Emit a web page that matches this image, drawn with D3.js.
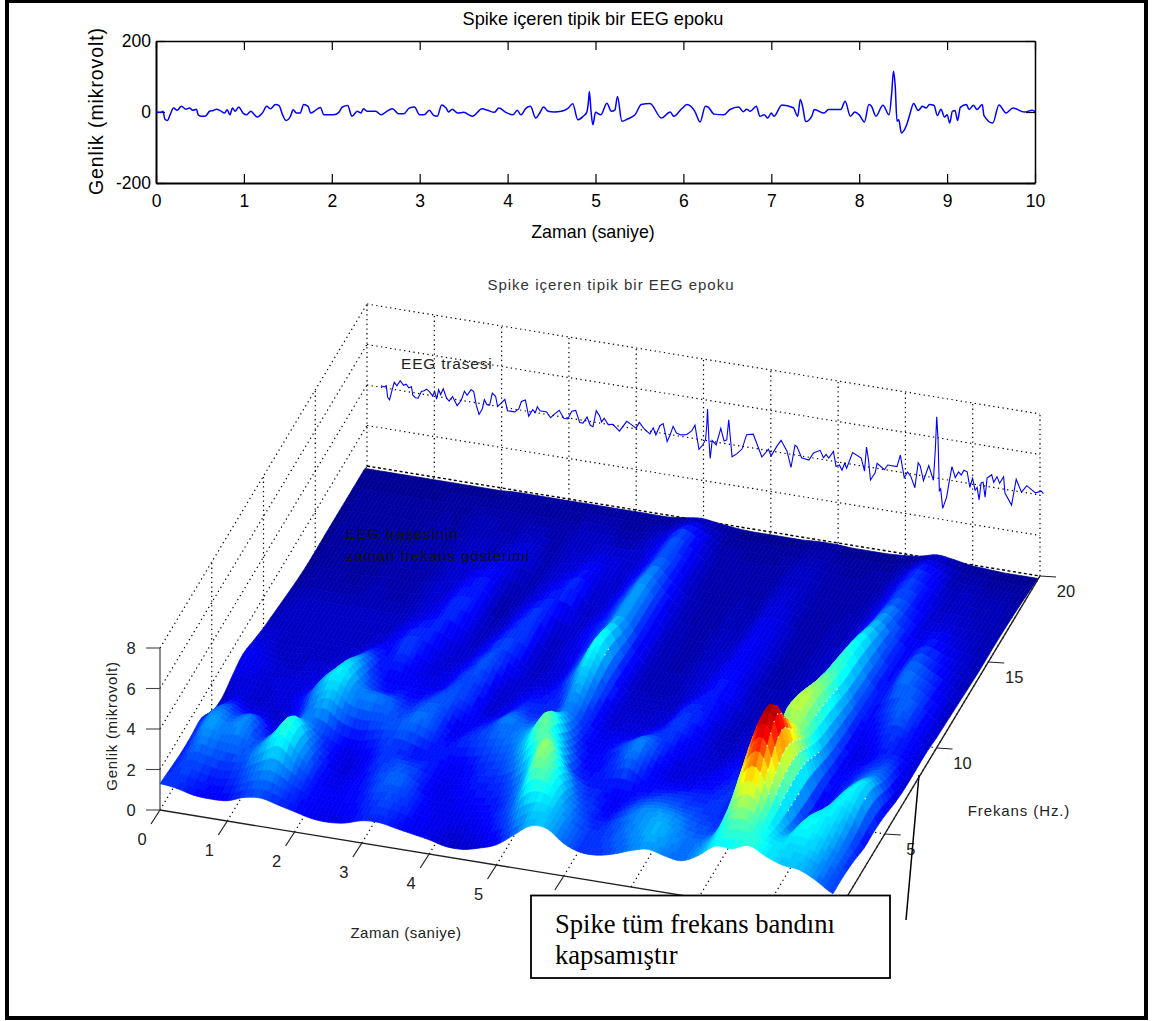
<!DOCTYPE html>
<html lang="tr"><head><meta charset="utf-8">
<script src="https://cdnjs.cloudflare.com/ajax/libs/d3/7.8.5/d3.min.js"></script>
<style>html,body{margin:0;padding:0;background:#fff}svg{display:block}text{font-family:"Liberation Sans",Arial,sans-serif}</style>
</head><body><svg id="c" width="1155" height="1021"></svg>
<script>
const title = "Spike içeren tipik bir EEG epoku";
const eegT = [0,.05,.08,.10,.13,.16,.20,.24,.29,.34,.38,.42,.46,.48,.52,.56,.61,.65,.69,.73,.78,.81,.84,.87,.90,.94,.99,1.03,1.08,1.11,1.15,1.21,1.26,1.30,1.36,1.40,1.44,1.48,1.53,1.56,1.60,1.64,1.68,1.73,1.76,1.81,1.87,1.91,1.97,2.02,2.08,2.12,2.18,2.23,2.29,2.33,2.36,2.40,2.50,2.56,2.61,2.69,2.76,2.82,2.88,2.94,3.0,3.05,3.11,3.16,3.20,3.25,3.30,3.33,3.37,3.43,3.50,3.60,3.71,3.77,3.85,3.90,3.98,4.06,4.11,4.15,4.21,4.26,4.32,4.36,4.41,4.46,4.53,4.61,4.69,4.74,4.80,4.86,4.90,4.92,4.93,4.95,4.97,5.0,5.06,5.13,5.18,5.22,5.25,5.30,5.37,5.45,5.52,5.62,5.75,5.85,5.89,5.98,6.04,6.13,6.19,6.25,6.28,6.35,6.46,6.53,6.63,6.68,6.72,6.76,6.83,6.87,6.92,6.96,7.0,7.03,7.12,7.25,7.30,7.33,7.36,7.39,7.46,7.49,7.60,7.65,7.79,7.84,7.90,7.95,8.0,8.06,8.11,8.14,8.19,8.27,8.34,8.37,8.39,8.41,8.43,8.45,8.48,8.54,8.57,8.62,8.67,8.72,8.76,8.80,8.85,8.89,8.93,8.97,9.0,9.03,9.06,9.09,9.12,9.15,9.22,9.25,9.30,9.34,9.40,9.42,9.52,9.59,9.67,9.75,9.88,9.97,10];
const eegV = [0,-1,2,-20,-24,-8,11,5,16,8,11,5,8,-8,-12,-12,2,4,8,4,-3,6,-8,11,2,14,-3,-8,2,-5,-14,-3,16,9,21,18,-8,-24,-12,6,-3,-3,21,16,-3,4,13,-8,-8,-8,-1,14,18,-12,2,-3,9,2,2,-8,-1,9,-5,-5,11,14,-8,-8,5,-10,-12,20,11,0,8,-3,-1,-12,9,5,-1,11,-1,-8,5,-8,11,16,-17,-5,14,2,0,2,11,23,-22,-12,-1,30,58,0,-36,-1,-8,25,2,5,44,-26,-19,-8,21,24,-17,0,-12,9,21,2,-28,16,14,-6,-8,7,14,1,8,2,16,-12,-8,-17,-3,-12,20,12,-12,35,11,-27,-12,7,-3,7,7,30,-12,0,-8,-28,21,16,-12,19,-8,54,115,72,-26,-22,-59,-36,-12,24,4,16,11,21,19,-10,8,-14,-8,-31,2,4,-24,13,21,7,19,7,21,-10,-31,20,-3,11,0,5,1];
const topXTicks = [0,1,2,3,4,5,6,7,8,9,10];
const topYTicks = [-200,0,200];
const timeTicks = [0,1,2,3,4,5,6];
const timeGrid = [1,2,3,4,5,6,7,8,9,10];
const freqTicks = [5,10,15,20];
const ampTicks = [0,2,4,6,8];
const surfT = d3.range(0,10.01,.25);
const surfF = [0,1,2,3,4,5,6,7,8,9,10,12,14,16,18,19.8];
const row00 = [1.3,1.2,1.0,.95,1.0,1.3,1.4,1.2,1.0,.8,.75,.85,1.1,1.15,1.0,.85,.7,.5,.5,.7,1.0,1.6,2.2,2.2,1.6,1.3,1.3,1.5,1.8,2.0,1.8,1.7,2.1,2.7,2.7,3.0,2.6,2.3,2.2,1.8,1.3];
const row01 = [1.2,1.4,1.2,1.1,1.3,1.7,1.9,1.5,1.1,.9,.9,1.0,1.3,1.4,1.2,.9,.8,.7,.8,1.0,1.4,2.2,2.5,2.2,1.6,1.3,1.4,1.7,2.0,2.2,1.9,1.7,2.0,3.0,3.3,2.9,2.5,2.5,2.4,1.9,1.3];
const row02 = [1.1,1.7,1.6,1.5,1.6,2.2,2.8,2.0,1.2,.8,.9,1.1,1.5,1.6,1.2,.8,.8,.9,1.0,1.2,1.8,3.2,3.0,2.0,1.4,1.1,1.4,1.8,2.0,2.0,1.7,1.5,1.7,3.7,4.3,3.0,2.0,2.7,2.6,2.0,1.2];
const row03 = [1.1,2.0,1.8,1.9,1.4,2.0,2.9,1.9,1.1,.7,.8,1.2,1.4,1.4,1.1,.8,.9,1.1,1.2,1.5,2.3,3.7,2.6,1.5,1.2,.9,1.2,1.5,1.6,1.5,1.4,1.3,1.5,4.6,5.6,3.4,1.5,2.3,2.6,2.2,1.0];
const row04 = [1.15,1.8,1.5,1.7,1.0,1.2,1.9,1.5,1.0,.8,1.0,1.3,1.2,1.0,1.1,.9,1.0,1.3,1.5,2.1,3.2,2.9,1.5,1.1,1.1,1.0,1.0,1.1,1.2,1.2,1.2,1.3,1.5,5.0,6.4,3.6,1.2,1.5,2.5,2.5,1.0];
const row05 = [.6,1.2,.9,.8,.6,1.0,1.8,2.2,1.6,1.4,1.5,1.5,1.7,1.4,1.0,1.2,1.4,1.6,1.8,2.3,3.3,2.0,1.1,1.0,1.3,1.7,1.0,.8,.8,.9,1.0,1.2,1.4,3.8,5.0,3.4,1.1,1.2,2.1,2.4,.9];
const row06 = [.45,.7,.5,.6,.7,1.2,2.2,2.6,1.9,1.8,1.6,1.3,1.6,1.5,.8,1.0,1.3,1.8,1.6,1.8,2.4,1.4,.9,1.0,1.4,1.8,1.2,.7,.7,.7,.9,1.1,1.3,3.2,3.8,2.8,1.1,1.1,1.6,1.8,.7];
const row07 = [.7,.7,.6,.7,.7,.9,1.7,2.4,1.5,1.1,1.1,1.0,1.3,1.5,1.2,.7,.9,1.3,1.2,1.3,1.8,1.2,.8,.8,.9,1.2,1.3,.9,.7,.5,.7,.9,1.2,3.6,3.8,2.4,1.0,1.0,1.3,1.4,.6];
const row08 = [.9,.8,.6,.5,.6,.7,1.1,1.8,1.2,.9,.9,.8,.9,1.4,1.3,.6,.7,1.0,1.1,1.3,2.2,1.3,.6,.6,.6,.8,1.3,1.1,.6,.4,.6,.8,1.1,3.3,3.7,2.2,.9,.8,1.1,1.1,.6];
const row09 = [.7,.6,.4,.5,.5,.5,.7,1.2,1.0,1.3,.8,.7,.8,1.2,1.5,.7,.6,.7,.9,1.6,2.6,1.4,.6,.5,.5,.6,1.1,1.1,.7,.4,.5,.6,1.0,2.8,3.4,2.0,.9,1.0,1.3,1.0,.6];
const row10 = [.5,.5,.5,.5,.5,.5,.5,.7,1.0,1.3,1.0,.6,.6,1.0,1.4,1.1,.5,.6,.8,1.6,2.8,1.4,.5,.4,.4,.5,.8,1.1,.8,.4,.4,.5,.9,2.4,3.1,1.8,1.0,1.3,1.6,1.1,.5];
const row12 = [.25,.4,.4,.4,.4,.4,.4,.4,.6,.8,1.2,1.0,.4,.6,1.1,1.3,.5,.6,.9,1.4,2.1,1.2,.5,.3,.3,.5,.6,.9,.7,.3,.3,.4,.7,1.8,2.8,1.6,1.0,1.7,1.4,.9,.4];
const row14 = [.05,.2,.2,.15,.2,.3,.2,.3,.5,.6,.9,1.0,.3,.4,.7,1.0,1.2,.5,.7,1.3,2.0,1.2,.5,.3,.25,.4,.4,.8,.7,.3,.25,.4,.5,1.2,2.1,1.4,.9,1.2,.9,.6,.3];
const row16 = [.05,.15,.2,.15,.15,.2,.3,.2,.4,.5,.4,.6,.7,.3,.5,.6,.8,.7,.6,1.0,1.6,1.0,.4,.25,.25,.3,.3,.6,.5,.25,.25,.3,.4,.9,1.5,1.1,.6,.6,.5,.4,.3];
const row18 = [.05,.15,.15,.15,.15,.15,.2,.2,.3,.3,.25,.3,.25,.25,.4,.4,.35,.3,.5,.8,1.3,.9,.35,.25,.2,.2,.25,.4,.4,.25,.2,.25,.3,.7,1.2,.9,.4,.4,.3,.3,.2];
const row20 = [.05,.05,.05,.05,.05,.05,.05,.05,.05,.1,.1,.1,.1,.1,.1,.1,.1,.1,.1,.2,.3,.2,.1,.05,.05,.05,.05,.1,.1,.05,.05,.05,.1,.2,.4,.3,.15,.1,.05,.05,.05];
const surfZ = [row00,row01,row02,row03,row04,row05,row06,row07,row08,row09,row10,row12,row14,row16,row18,row20];
const jetZ = [0,.95,2.7,4.3,5.6,6.6];
const jetR = [0,0,0,255,255,128];
const jetG = [0,0,255,255,0,0];
const jetB = [143,255,255,0,0,0];

const svg = d3.select("#c");
// ---------- 2D panel
const x2 = d3.scaleLinear().domain([0,10]).range([156,1035]);
const y2 = d3.scaleLinear().domain([-200,200]).range([183,41]);
const topG = svg.append("g");
const fmt = d => String(d);
function styleAxis(g,w){g.selectAll(".domain").attr("stroke","#000").attr("stroke-width",w);g.selectAll(".tick line").attr("stroke","#000").attr("stroke-width",1.2);g.selectAll("text").attr("fill","#000").attr("font-size",17.5).attr("font-family",'"Liberation Sans"');}
topG.append("g").attr("transform","translate(0,183)").call(d3.axisBottom(x2).tickValues(topXTicks).tickFormat(fmt).tickSizeOuter(0).tickSizeInner(-9).tickPadding(12)).call(styleAxis,2);
topG.append("g").attr("transform","translate(0,41)").call(d3.axisTop(x2).tickValues(topXTicks).tickFormat("").tickSizeOuter(0).tickSizeInner(-9)).call(styleAxis,1.5);
topG.append("g").attr("transform","translate(156,0)").call(d3.axisLeft(y2).tickValues(topYTicks).tickFormat(fmt).tickSizeOuter(0).tickSizeInner(-9).tickPadding(5)).call(styleAxis,2);
topG.append("g").attr("transform","translate(1035,0)").call(d3.axisRight(y2).tickValues(topYTicks).tickFormat("").tickSizeOuter(0).tickSizeInner(-9)).call(styleAxis,1.5);
topG.append("path").attr("d",d3.line().curve(d3.curveMonotoneX).x((d,i)=>x2(eegT[i])).y(d=>y2(d))(eegV)).attr("fill","none").attr("stroke","#0000ff").attr("stroke-width",1.5);
function txt(x,y,s,size,opts={}){const t=svg.append("text").attr("x",x).attr("y",y).attr("font-size",size).attr("fill",opts.fill||"#000").attr("text-anchor",opts.anchor||"middle").text(s);
 if(opts.ls)t.attr("letter-spacing",opts.ls); if(opts.rot)t.attr("transform",`rotate(${opts.rot} ${x} ${y})`); if(opts.fam)t.style("font-family",opts.fam); return t;}
txt(593,25,title,18.2);
txt(103,111,"Genlik  (mikrovolt)",19.5,{rot:-90,ls:.9});
txt(593,238,"Zaman (saniye)",17.8);

// ---------- 3D panel
const tX = d3.scaleLinear().domain([0,10]).range([160,833]);
const tY = d3.scaleLinear().domain([0,10]).range([810,920]);
const fX = d3.scaleLinear().domain([0,20]).range([0,207]);
const fY = d3.scaleLinear().domain([0,20]).range([0,-344]);
const zY = d3.scaleLinear().domain([0,8]).range([0,-162]);
const P = (t,f,z)=>[tX(t)+fX(f), tY(t)+fY(f)+zY(z)];
const ln = d3.line();
const dot = (a,b,w=1.2,da="1.3 3.4")=>svg.append("path").attr("d",ln([a,b])).attr("fill","none").attr("stroke","#000").attr("stroke-width",w).attr("stroke-dasharray",da);
const solid = (a,b,w=1.2,c="#222")=>svg.append("path").attr("d",ln([a,b])).attr("fill","none").attr("stroke",c).attr("stroke-width",w);
// walls
ampTicks.forEach(z=>{ if(z>0){ dot(P(0,20,z),P(10,20,z)); dot(P(0,0,z),P(0,20,z)); }});
timeGrid.forEach(t=>{ dot(P(t,20,0),P(t,20,8)); dot(P(t,0,0),P(t,20,0)); });
dot(P(0,20,0),P(0,20,8));
freqTicks.forEach(f=>{ if(f<20){ dot(P(0,f,0),P(0,f,8)); dot(P(0,f,0),P(10,f,0)); }});
dot(P(0,0,0),P(0,20,0));
dot(P(0,20,0),P(10,20,0),1.4,"3 2.5");
// trace
const trT = d3.scaleLinear().domain([0,10]).range([.208,10.05]);
const trZ = d3.scaleLinear().domain([-200,200]).range([4.07-5.15,4.07+5.15]);
svg.append("path").attr("d",d3.line()((eegV).map((v,i)=>P(trT(eegT[i]),20,trZ(v))))).attr("fill","none").attr("stroke","#0000ff").attr("stroke-width",1.1);
// surface
const rS=d3.scaleLinear().domain(jetZ).range(jetR).clamp(true),gS=d3.scaleLinear().domain(jetZ).range(jetG).clamp(true),bS=d3.scaleLinear().domain(jetZ).range(jetB).clamp(true);
const colorOf = z=>{const q=Math.floor(Math.max(0,z)/6.6*64)/64*6.6+.05;return `rgb(${rS(q)|0},${gS(q)|0},${bS(q)|0})`;};
const cr=(a,b,c,d,u)=>.5*(2*b+(c-a)*u+(2*a-5*b+4*c-d)*u*u+(3*b-a-3*c+d)*u*u*u);
const at=(i,j)=>surfZ[Math.max(0,Math.min(surfF.length-1,j))][Math.max(0,Math.min(surfT.length-1,i))];
const smooth=(i,u,j,v)=>{const k=[-1,0,1,2].map(d=>cr(at(i-1,j+d),at(i,j+d),at(i+1,j+d),at(i+2,j+d),u));return Math.max(0,cr(k[0],k[1],k[2],k[3],v));};
const subT=4,subF=3, mesh=[], specks=[];
for(let j=surfF.length-2;j>=0;j--)for(let sv=subF-1;sv>=0;sv--)for(let i=0;i<surfT.length-1;i++)for(let su=0;su<subT;su++){
 const u0=su/subT,u1=(su+1)/subT,v0=sv/subF,v1=(sv+1)/subF;
 const T=(i,u)=>surfT[i]+(surfT[i+1]-surfT[i])*u, F=(j,v)=>surfF[j]+(surfF[j+1]-surfF[j])*v;
 const z00=smooth(i,u0,j,v0),z10=smooth(i,u1,j,v0),z11=smooth(i,u1,j,v1),z01=smooth(i,u0,j,v1);
 mesh.push({pts:[P(T(i,u0),F(j,v0),z00),P(T(i,u1),F(j,v0),z10),P(T(i,u1),F(j,v1),z11),P(T(i,u0),F(j,v1),z01)],z:(z00+z10+z11+z01)/4});
 if(z00-z10>.42&&z00>2.2) specks.push(P(T(i,u0),F(j,v0),z00));
}
svg.append("g").selectAll("path").data(mesh).join("path").attr("d",d=>ln(d.pts)+"Z").attr("fill",d=>colorOf(d.z)).attr("stroke",d=>colorOf(d.z)).attr("stroke-width",.7);
svg.append("g").selectAll("circle").data(specks).join("circle").attr("cx",d=>d[0]).attr("cy",d=>d[1]).attr("r",.8).attr("fill","#fff").attr("opacity",.85);
// axes
solid(P(0,0,0),P(10,0,0),1.4);
solid(P(10,0,0),P(10,20,0),1.4);
solid(P(0,0,0),P(0,0,8),1.2,"#444");
ampTicks.forEach(z=>{const p=P(0,0,z);solid(p,[p[0]-14,p[1]],1.1,"#444");txt(p[0]-29,p[1]+6,z,16.5,{fill:"#222"});});
timeTicks.forEach(t=>{const p=P(t,0,0);solid(p,[p[0]-9,p[1]+14],1.2,"#222");txt(p[0]-18,p[1]+35,t,16.5,{fill:"#222"});});
freqTicks.forEach(f=>{const p=P(10,f,0);solid(p,[p[0]+16,p[1]+1],1.2,"#222");txt(p[0]+26,p[1]+21,f,16.5,{fill:"#222"});});
txt(611,290,title,15,{fill:"#333",ls:1});
txt(401,369,"EEG trasesi",15.5,{anchor:"start",fill:"#222",ls:.8});
txt(346,539,"EEG trasesinin",15,{anchor:"start",fill:"#111",ls:.9});
txt(346,561,"zaman frekans gösterimi",15,{anchor:"start",fill:"#111",ls:.9});
txt(117,726,"Genlik (mikrovolt)",15,{rot:-90,fill:"#222",ls:.7});
txt(1019,816,"Frekans (Hz.)",15,{fill:"#222",ls:.9});
txt(406,938,"Zaman (saniye)",15,{fill:"#222",ls:.5});
// callout
solid([919,775],[906,920],1.5,"#000");
svg.append("rect").attr("x",531).attr("y",895.5).attr("width",359).attr("height",82.5).attr("fill","#fff").attr("stroke","#000").attr("stroke-width",1.8);
txt(555,933,"Spike tüm frekans bandını",26.6,{anchor:"start",fam:'"Liberation Serif"'});
txt(555,964,"kapsamıştır",26.6,{anchor:"start",fam:'"Liberation Serif"'});
// frame
svg.append("rect").attr("x",7).attr("y",1).attr("width",1139).attr("height",1017).attr("fill","none").attr("stroke","#000").attr("stroke-width",4);
</script></body></html>
